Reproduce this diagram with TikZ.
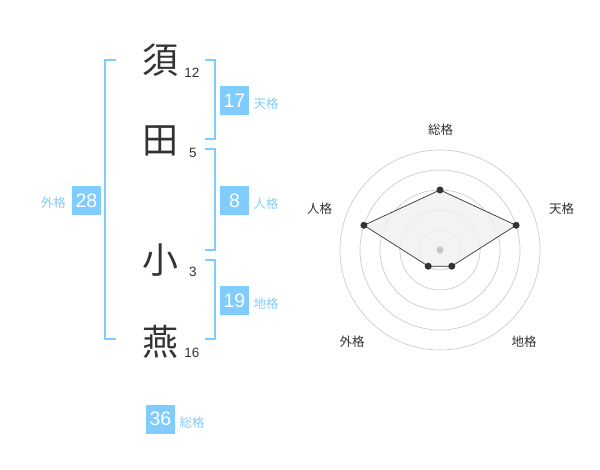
\documentclass[tikz,border=0pt]{standalone}
\usepackage{fontspec}
\setmainfont{Liberation Sans}
\newfontfamily\cjk{Noto Sans CJK JP}
\definecolor{skyb}{HTML}{80CCFF}
\definecolor{lblb}{HTML}{88CCF5}
\definecolor{txt}{HTML}{333333}
\begin{document}
\begin{tikzpicture}[x=1pt,y=-1pt,
  kanji/.style={font=\cjk\fontsize{36}{36}\selectfont,text=txt,inner sep=0pt},
  strokes/.style={font=\fontsize{13.5}{14}\selectfont,text=txt,inner sep=0pt},
  numbox/.style={fill=skyb,text=white,minimum width=29pt,minimum height=29pt,inner sep=0pt,font=\fontsize{19.5}{19.5}\selectfont},
  kaku/.style={text=lblb,font=\cjk\fontsize{12.5}{12.5}\selectfont,inner sep=0pt},
  brk/.style={draw=skyb,line width=1.6pt},
  ring/.style={draw=black!20,line width=0.7pt},
  axlbl/.style={text=txt,font=\cjk\fontsize{12.5}{12.5}\selectfont,inner sep=0pt},
  dotpt/.style={circle,fill=txt,inner sep=0pt,minimum size=7pt}]
\useasboundingbox (0,0) rectangle (600,470);
% kanji
\node[kanji] (k1) at (160,60) {須};
\node[kanji] (k2) at (160,141) {田};
\node[kanji] (k3) at (160,260) {小};
\node[kanji] (k4) at (160,342) {燕};
\node[strokes] (s1) at (192,73) {12};
\node[strokes] (s2) at (193,153) {5};
\node[strokes] (s3) at (193,272) {3};
\node[strokes] (s4) at (192,353) {16};
% brackets
\coordinate (la) at (116,60); \coordinate (lb) at (116,339);
\draw[brk] (la) -- ++(-11,0) |- (lb);
\coordinate (r1a) at (205,60); \coordinate (r1b) at (205,139);
\draw[brk] (r1a) -- ++(10,0) |- (r1b);
\coordinate (r2a) at (205,149); \coordinate (r2b) at (205,250);
\draw[brk] (r2a) -- ++(10,0) |- (r2b);
\coordinate (r3a) at (205,260); \coordinate (r3b) at (205,339);
\draw[brk] (r3a) -- ++(10,0) |- (r3b);
% boxes
\node[numbox] (b17) at (234.5,100.5) {17};
\node[kaku,anchor=west] (t17) at (253.5,104) {天格};
\node[numbox] (b8) at (234.5,200.5) {8};
\node[kaku,anchor=west] (t8) at (253.5,204) {人格};
\node[numbox] (b28) at (86.5,200.5) {28};
\node[kaku,anchor=east] (t28) at (66,203) {外格};
\node[numbox] (b19) at (234.5,300.5) {19};
\node[kaku,anchor=west] (t19) at (253.5,304) {地格};
\node[numbox] (b36) at (160.5,419) {36};
\node[kaku,anchor=west] (t36) at (179.5,423) {総格};
% radar
\coordinate (c) at (440,250);
\foreach \r in {20,40,60,80,100} \draw[ring] (c) circle (\r);
\coordinate (p1) at (440,190);
\coordinate (p2) at (516.1,225.3);
\coordinate (p3) at (451.8,266.2);
\coordinate (p4) at (428.2,266.2);
\coordinate (p5) at (363.9,225.3);
\fill[black!6,opacity=0.8] (p1) -- (p2) -- (p3) -- (p4) -- (p5) -- cycle;
\draw[txt,line width=0.7pt] (p1) -- (p2) -- (p3) -- (p4) -- (p5) -- cycle;
\fill[black!22] (c) circle (3.5);
\node[dotpt] (n1) at (p1) {};
\node[dotpt] (n2) at (p2) {};
\node[dotpt] (n3) at (p3) {};
\node[dotpt] (n4) at (p4) {};
\node[dotpt] (n5) at (p5) {};
\node[axlbl] (a1) at (440.5,130) {総格};
\node[axlbl] (a2) at (561.5,208.5) {天格};
\node[axlbl] (a3) at (524,342) {地格};
\node[axlbl] (a4) at (352,342) {外格};
\node[axlbl] (a5) at (319.5,208.5) {人格};
\end{tikzpicture}
\end{document}
